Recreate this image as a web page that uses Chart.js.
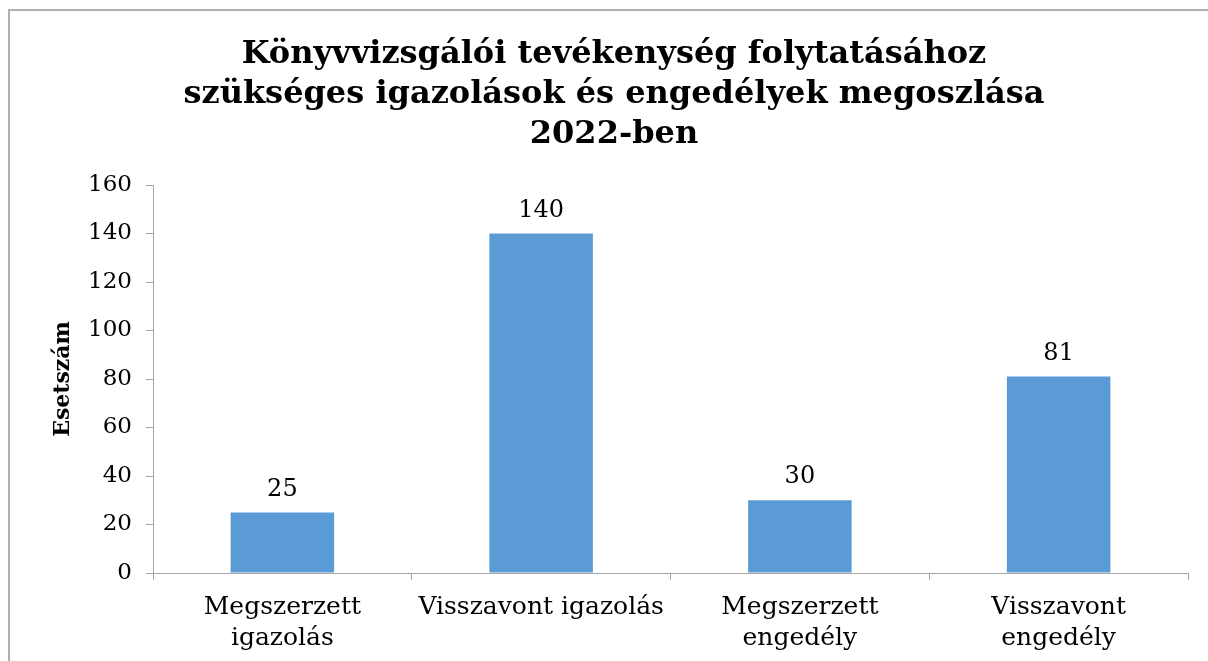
<!DOCTYPE html>
<html>
<head>
<meta charset="utf-8">
<script src="https://cdn.jsdelivr.net/npm/chart.js@4.4.1/dist/chart.umd.min.js"></script>
<style>
  html, body { margin: 0; padding: 0; background: #fff; overflow: hidden; }
  #wrap { position: relative; width: 1208px; height: 661px; }
  #frame { position: absolute; left: 8px; top: 9px; width: 1400px; height: 900px;
           border: 2px solid #b0b0b0; pointer-events: none; }
</style>
</head>
<body>
<div id="wrap">
  <canvas id="myBarChart" width="1208" height="661"></canvas>
  <div id="frame"></div>
</div>
<script>
// chart data
var categories = [['Megszerzett', 'igazolás'], 'Visszavont igazolás', ['Megszerzett', 'engedély'], ['Visszavont', 'engedély']];
var values = [25, 140, 30, 81];
var yTicks = [0, 20, 40, 60, 80, 100, 120, 140, 160];

var serif = "'DejaVu Serif', 'Liberation Serif', serif";
var axisGray = '#a6a6a6';

// value labels above the bars
var barLabels = {
    id: 'barLabels',
    afterDatasetsDraw: function (chart) {
        var ctx = chart.ctx;
        var meta = chart.getDatasetMeta(0);
        ctx.save();
        ctx.font = '24px ' + serif;
        ctx.fillStyle = '#000';
        ctx.textAlign = 'center';
        ctx.textBaseline = 'bottom';
        meta.data.forEach(function (bar, i) {
            ctx.fillText(values[i], bar.x, bar.y - 11);
        });
        ctx.restore();
    }
};

var ctx = document.getElementById('myBarChart').getContext('2d');
var myBarChart = new Chart(ctx, {
    type: 'bar',
    data: {
        labels: categories,
        datasets: [{
            label: 'Esetszám',
            data: values,
            backgroundColor: '#5b9bd5',
            borderWidth: 0,
            categoryPercentage: 1,
            barPercentage: 0.4
        }]
    },
    options: {
        responsive: false,
        animation: false,
        layout: {
            padding: { left: 40, right: 20, top: 0, bottom: 0 }
        },
        plugins: {
            legend: { display: false },
            tooltip: { enabled: false },
            title: {
                display: true,
                text: ['Könyvvizsgálói tevékenység folytatásához', 'szükséges igazolások és engedélyek megoszlása', '2022-ben'],
                color: '#000',
                font: { family: serif, size: 32, weight: 'bold', lineHeight: 1.25 },
                padding: { top: 35, bottom: 30 }
            }
        },
        scales: {
            x: {
                grid: {
                    display: true,
                    drawOnChartArea: false,
                    drawTicks: true,
                    tickLength: 7,
                    color: axisGray,
                    offset: true
                },
                border: { color: axisGray, width: 1 },
                ticks: {
                    color: '#000',
                    font: { family: serif, size: 25, lineHeight: 1.25 },
                    padding: 12,
                    maxRotation: 0,
                    autoSkip: false
                },
                afterFit: function (scale) { scale.height = 88; }
            },
            y: {
                min: 0,
                max: 160,
                afterBuildTicks: function (scale) {
                    scale.ticks = yTicks.map(function (v) { return { value: v }; });
                },
                grid: {
                    display: true,
                    drawOnChartArea: false,
                    drawTicks: true,
                    tickLength: 7,
                    color: axisGray
                },
                border: { color: axisGray, width: 1 },
                ticks: {
                    color: '#000',
                    font: { family: serif, size: 23 },
                    padding: 14
                },
                title: {
                    display: true,
                    text: 'Esetszám',
                    color: '#000',
                    font: { family: serif, size: 22, weight: 'bold' },
                    padding: { top: 10, bottom: 10 }
                },
                afterFit: function (scale) { scale.width = 113; }
            }
        }
    },
    plugins: [barLabels]
});
</script>
</body>
</html>
